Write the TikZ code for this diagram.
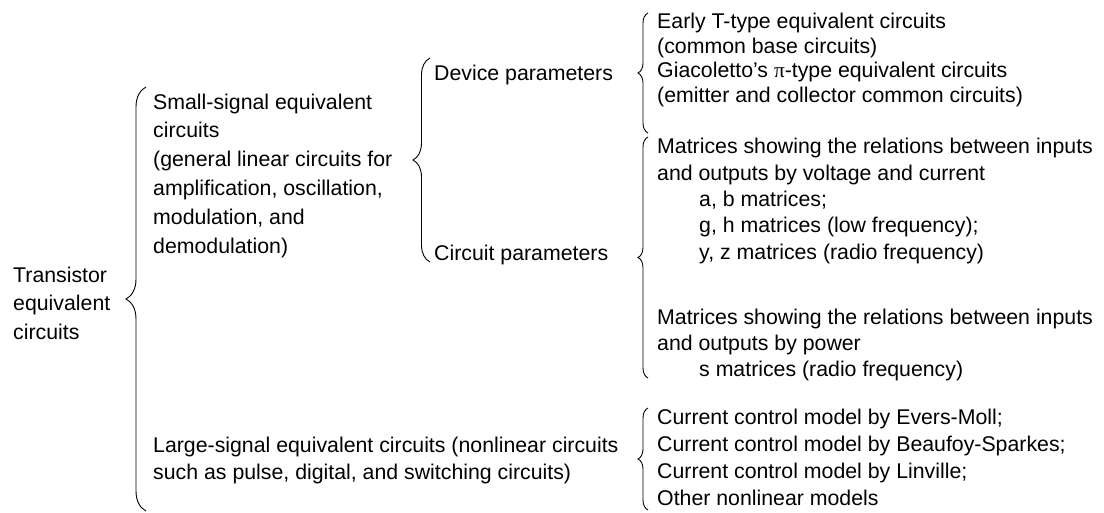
\documentclass[tikz,border=0pt]{standalone}
\usepackage{fontspec}
\setmainfont{Liberation Sans}
\newfontfamily\greekfont{Liberation Serif}
\usetikzlibrary{decorations.pathreplacing}

\begin{document}
\begin{tikzpicture}[x=1pt,y=-1pt,
  txt/.style={anchor=base west,align=left,inner sep=0pt,font=\fontsize{21.3}{#1}\selectfont},
  txt/.default=24.5,
  brc/.style={decorate,decoration={brace,amplitude=#1,aspect=.5},line width=0.9pt},
  brc/.default=10pt]
\useasboundingbox (0,0) rectangle (1104,512);
% left and middle columns (placed at the baseline of the last line)
\node[txt=28.5] (trans) at (13,339) {Transistor\\equivalent\\circuits};
\node[txt=28.8] (small) at (153,253) {Small-signal equivalent\\circuits\\(general linear circuits for\\amplification, oscillation,\\modulation, and\\demodulation)};
\node[txt=27] (large) at (153,479) {Large-signal equivalent circuits (nonlinear circuits\\such as pulse, digital, and switching circuits)};
\node[txt] (device) at (434,80) {Device parameters};
\node[txt] (circuit) at (434,260) {Circuit parameters};
% right column
\node[txt=24.5] (devlist) at (657,102) {Early T-type equivalent circuits\\(common base circuits)\\Giacoletto’s {\greekfont π}-type equivalent circuits\\(emitter and collector common circuits)};
\node[txt=26.3] (vilist) at (657,259) {Matrices showing the relations between inputs\\and outputs by voltage and current\\\hspace*{42pt}a, b matrices;\\\hspace*{42pt}g, h matrices (low frequency);\\\hspace*{42pt}y, z matrices (radio frequency)};
\node[txt=26] (powlist) at (657,376) {Matrices showing the relations between inputs\\and outputs by power\\\hspace*{42pt}s matrices (radio frequency)};
\node[txt=27] (largelist) at (657,505) {Current control model by Evers-Moll;\\Current control model by Beaufoy-Sparkes;\\Current control model by Linville;\\Other nonlinear models};
% brace ends
\coordinate (t1) at (146,87);  \coordinate (b1) at (146,511);
\coordinate (t2) at (430,58);  \coordinate (b2) at (430,262);
\coordinate (t3) at (648,13);  \coordinate (b3) at (648,133);
\coordinate (t4) at (648,137); \coordinate (b4) at (648,378);
\coordinate (t5) at (648,408); \coordinate (b5) at (648,510);
\draw[brc=20pt] (b1) -- (t1);
\draw[brc=17pt] (b2) -- (t2);
\foreach \i in {3,4,5}{\draw[brc] (b\i) -- (t\i);}
\end{tikzpicture}
\end{document}
